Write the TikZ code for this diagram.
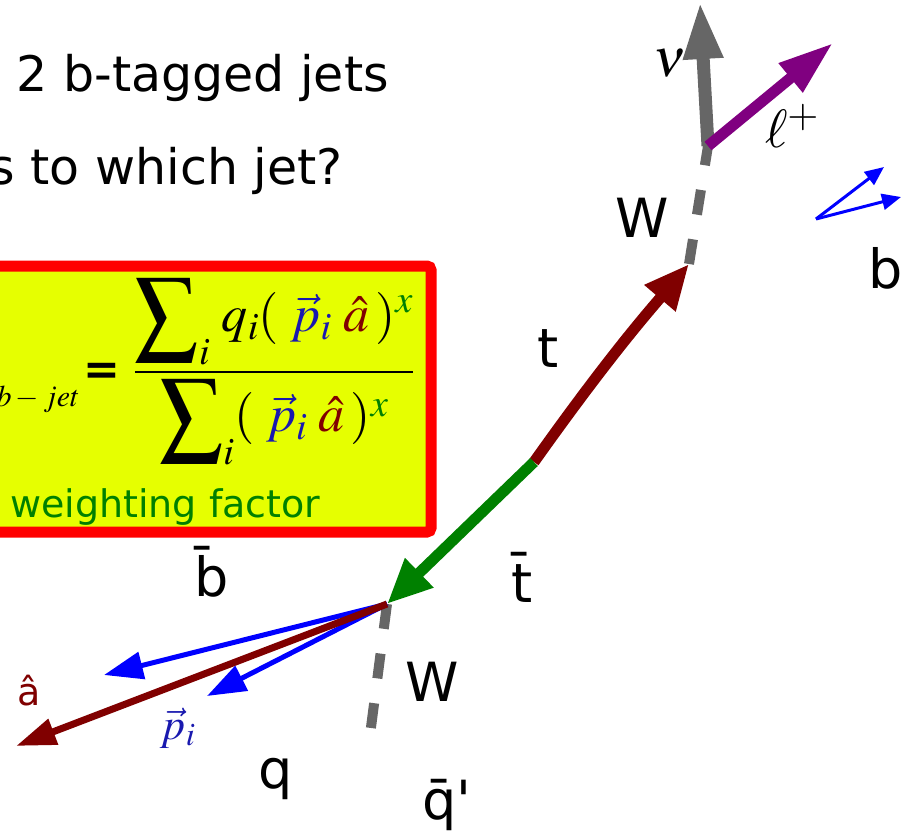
\documentclass[tikz,border=0pt]{standalone}
\usepackage{mathptmx}
\usepackage{graphicx}
\usepackage[no-math]{fontspec}
\setmainfont{DejaVu Sans}
\usetikzlibrary{arrows.meta}

\definecolor{wgray}{RGB}{102,102,102}
\definecolor{tred}{RGB}{128,0,0}
\definecolor{tgreen}{RGB}{0,128,0}
\definecolor{lpurple}{RGB}{128,0,128}
\definecolor{boxyellow}{RGB}{230,255,0}
\definecolor{pblue}{RGB}{25,25,175}

\newcommand{\pa}{(\;\textcolor{pblue}{\vec p_i}\;\textcolor{tred}{\hat a}\,)^{\textcolor{tgreen}{x}}}
\newcommand{\bigsum}{\mathop{\raisebox{-0.12em}{\scalebox{1.2}[1.3]{$\displaystyle\sum$}}}\nolimits_i}

\tikzstyle{every node}=[inner sep=0pt, font=\fontsize{54}{60}\selectfont]
\tikzstyle{slide}=[font=\fontsize{49}{56}\selectfont, anchor=base east]
\tikzstyle{wline}=[draw=wgray, line width=10pt, dash pattern=on 25pt off 25pt]
\tikzstyle{fat}=[line width=11pt, -{Triangle[length=45pt,width=38pt]}]
\tikzstyle{track}=[blue, line width=5pt, -{Triangle[length=39pt,width=27pt]}]
\tikzstyle{btrack}=[blue, line width=3pt, -{Triangle[length=19pt,width=16pt]}]
\tikzstyle{axis}=[tred, line width=7pt, -{Triangle[length=40pt,width=26pt]}]
\tikzstyle{weightbox}=[draw=red, line width=11pt, fill=boxyellow, rounded corners=4pt]

\begin{document}
\begin{tikzpicture}[x=1pt, y=-1pt]
    \useasboundingbox (0,0) rectangle (902,830);
    \clip (0,0) rectangle (902,830);

    \node [slide] (jets) at (389,91) {≥ 2 b-tagged jets};
    \node [slide] (which) at (343,184) {s to which jet?};

    \draw [weightbox] (-30,266) rectangle (431,532);
    \node [anchor=base east, font=\fontsize{30}{34}\selectfont] (wsub) at (80,406) {$b-jet$};
    \node [font=\fontsize{44}{50}\bfseries] (eq) at (102,374) {=};
    \node [font=\fontsize{52}{60}\selectfont] (frac) at (274,372)
        {$\displaystyle\frac{\bigsum\, q_i\pa}
                             {\bigsum\pa}$};
    \node [anchor=base west, tgreen, font=\fontsize{38}{44}\selectfont] (wf) at (10,517) {weighting factor};

    \coordinate (ttbar) at (534,462);
    \coordinate (Wt) at (689,264);
    \coordinate (Wl) at (708,146);
    \coordinate (nu) at (700,2);
    \coordinate (lep) at (833,43);
    \coordinate (Wb) at (387,604);
    \coordinate (qbar) at (370,735);
    \coordinate (bvtx) at (816,219);
    \coordinate (bj1) at (884,167);
    \coordinate (bj2) at (901,197);
    \coordinate (pa) at (104,675);
    \coordinate (pb) at (207,696);
    \coordinate (ahat) at (16,746);

    \draw [wline] (Wt) -- (Wl);
    \draw [wline] (Wb) -- (qbar);
    \draw [fat, tred] (ttbar) .. controls (610,355) and (650,310) .. (Wt);
    \draw [fat, tgreen] (ttbar) -- (Wb);
    \draw [wgray, line width=13pt, -{Triangle[length=57pt,width=37pt]}] (Wl) -- (nu);
    \draw [lpurple, line width=11pt, -{Triangle[length=55pt,width=35pt]}] (Wl) -- (lep);
    \draw [btrack] (bvtx) -- (bj1);
    \draw [btrack] (bvtx) -- (bj2);
    \draw [track] (Wb) -- (pa);
    \draw [track] (Wb) -- (pb);
    \draw [axis] (Wb) -- (ahat);

    \node (nulab) at (670,63) {$\nu$};
    \node (leplab) at (792,126) {$\ell^{+}$};
    \node (Wtop) at (642,218) {W};
    \node (blab) at (886,268) {b};
    \node (tlab) at (548,349) {t};
    \node (tbarlab) at (522,577) {\=t};
    \node (bbarlab) at (212,572) {\=b};
    \node (Wlow) at (432,682) {W};
    \node (qlab) at (276,779) {q};
    \node [anchor=north] (qbarlab) at (447,779) {\=q\textquotesingle};
    \node [tred, font=\fontsize{38}{44}\selectfont] (alab) at (29,691) {â};
    \node [pblue, font=\fontsize{44}{50}\selectfont] (plab) at (178,728) {$\vec p_i$};
\end{tikzpicture}
\end{document}
